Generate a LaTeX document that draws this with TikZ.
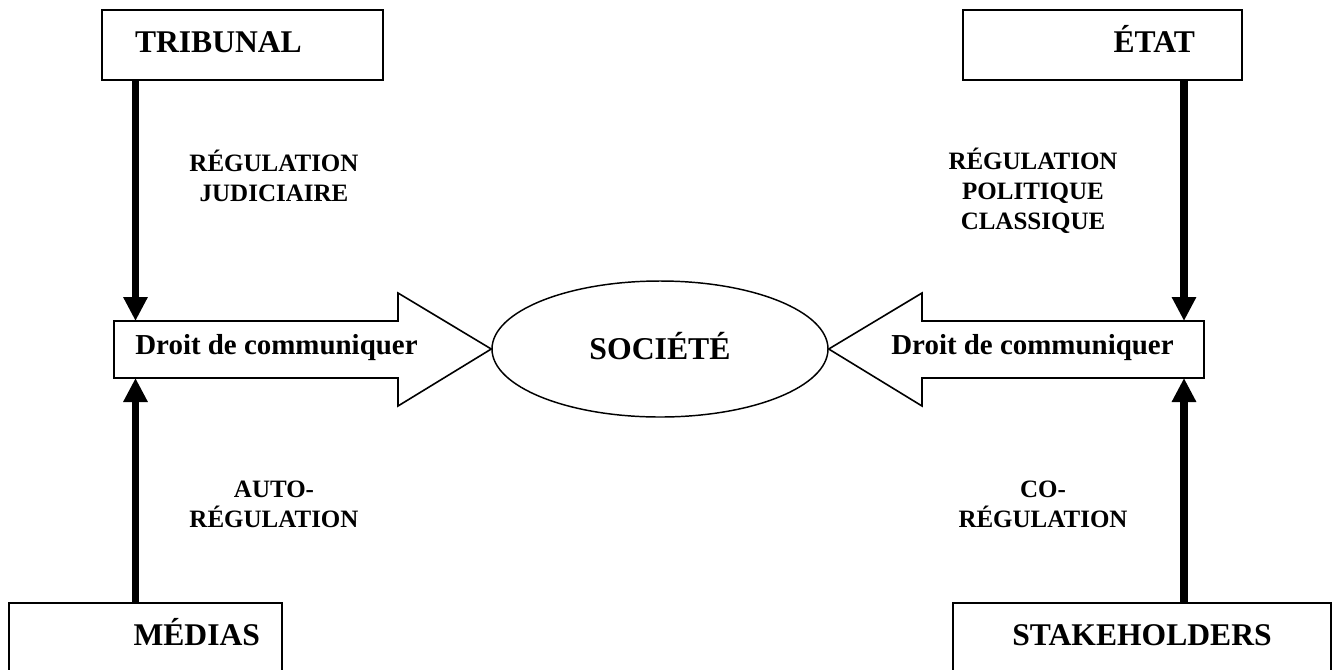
\documentclass[tikz,border=0pt]{standalone}
\usepackage{fontspec}
\setmainfont{Liberation Serif}
\usetikzlibrary{shapes.geometric,arrows.meta}

\tikzset{
    boite/.style={draw, line width=1.2pt, rectangle, minimum height=52.5pt, inner ysep=0pt,
        text height=16.5pt, text depth=6pt, font=\bfseries\fontsize{23.7}{28}\selectfont},
    bloc/.style={draw, line width=1.2pt, line join=miter},
    fleche/.style={line width=5.75pt, -{Triangle[length=18pt,width=17.25pt]}},
    etiquette/.style={align=center, anchor=base, inner sep=0pt,
        font=\bfseries\fontsize{18.75}{22.5}\selectfont},
    droit/.style={anchor=base, inner sep=0pt, font=\bfseries\fontsize{21.7}{26}\selectfont}
}

\begin{document}
\begin{tikzpicture}[x=0.75pt,y=-0.75pt]
            \clip (0,0) rectangle (1342,669);

            %boites
            \node[boite, text width=161.25pt, inner xsep=24.75pt, align=left] (trib) at (242.5,45) {TRIBUNAL};

            \node[boite, text width=138.75pt, inner xsep=35.25pt, align=right] (etat) at (1102.5,45) {ÉTAT};

            \node[boite, text width=171.75pt, inner xsep=16.5pt, align=right] (med) at (145.5,638) {MÉDIAS};

            \node[boite, text width=263.5pt, inner xsep=10pt, align=center] (stak) at (1142,638) {STAKEHOLDERS};

            %societe
            \node[ellipse, draw, line width=1.1pt, minimum width=252pt, minimum height=102pt, inner sep=0pt,
                text height=16pt, text depth=0pt, font=\bfseries\fontsize{23.8}{28}\selectfont] (soc) at (660,349) {SOCIÉTÉ};

            %fleches larges
            \draw[bloc] (114,321) -- (398,321) -- (398,293) -- (soc.west) -- (398,406) -- (398,378) -- (114,378) -- cycle;

            \node[droit] (droitG) at (276.5,354) {Droit de communiquer};

            \draw[bloc] (1204,321) -- (922,321) -- (922,293) -- (soc.east) -- (922,406) -- (922,378) -- (1204,378) -- cycle;

            \node[droit] (droitD) at (1032.5,354) {Droit de communiquer};

            \coordinate (gH) at (135.5,321);
            \coordinate (gB) at (135.5,378);
            \coordinate (dH) at (1184,321);
            \coordinate (dB) at (1184,378);

            %regulations
            \draw[fleche] (trib.south -| gH) -- (gH);

            \node[etiquette] (judic) at (274,201) {RÉGULATION\\JUDICIAIRE};

            \draw[fleche] (etat.south -| dH) -- (dH);

            \node[etiquette] (polit) at (1033,229) {RÉGULATION\\POLITIQUE\\CLASSIQUE};

            \draw[fleche] (med.north -| gB) -- (gB);

            \node[etiquette] (auto) at (274,527) {AUTO-\\RÉGULATION};

            \draw[fleche] (stak.north -| dB) -- (dB);

            \node[etiquette] (coreg) at (1043,527) {CO-\\RÉGULATION};
\end{tikzpicture}
\end{document}
